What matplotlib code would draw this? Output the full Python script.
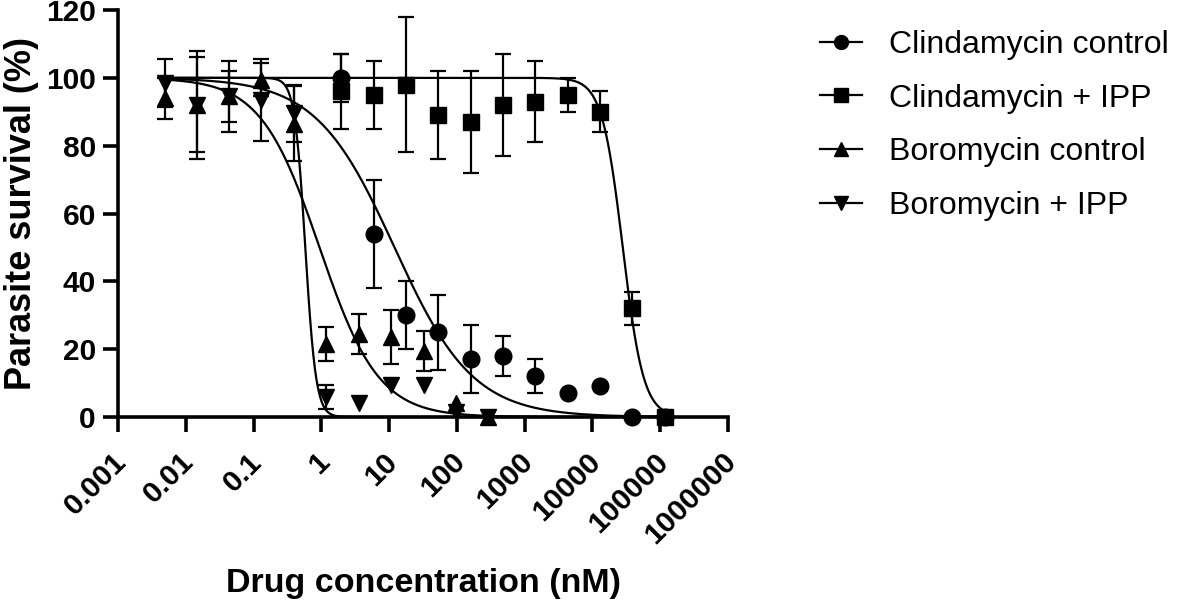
import numpy as np
import matplotlib
matplotlib.use("Agg")
import matplotlib.pyplot as plt
import matplotlib.transforms as mtransforms
from matplotlib.ticker import FixedLocator, NullLocator

plt.rcParams['font.family'] = ['Liberation Sans', 'DejaVu Sans']

# Concentrations (nM), 3-fold dilution series
clinda_x = [1.97, 5.9, 17.7, 53, 159, 478, 1433, 4300, 12900, 38700, 116000]
boro_x   = [0.0049, 0.0147, 0.044, 0.13, 0.40, 1.19, 3.58, 10.7, 32.2, 96.7, 290]

# Parasite survival (%) and error bars
clinda_ctrl     = [100, 54, 30, 25, 17, 18, 12, 7, 9, 0, 0]
clinda_ctrl_err = [7, 16, 10, 11, 10, 6, 5, 0, 0, 0, 0]
clinda_ipp      = [96, 95, 98, 89, 87, 92, 93, 95, 90, 32, 0]
clinda_ipp_err  = [11, 10, 20, 13, 15, 15, 12, 5, 6, 5, 0]
boro_ctrl       = [94, 92, 94.5, 99.5, 86.5, 21.5, 24.5, 23.5, 19.5, 4, 0]
boro_ctrl_err   = [6, 14, 7.5, 5, 11, 5, 6, 8, 6, 0, 0]
boro_ipp        = [98.5, 92, 94.5, 93.5, 89.5, 6, 4, 9.5, 9.5, 1.5, 0]
boro_ipp_err    = [7, 16, 10.5, 12, 8.5, 3.5, 0, 0, 0, 0, 0]

# fitted dose-response curves (top 100, bottom 0): IC50 (nM), Hill slope
fit_ic50 = [12.0, 28000, 0.94, 0.58]
fit_hill = [0.75, 2.84, 1.0, 5.5]

labels  = ["Clindamycin control", "Clindamycin + IPP",
           "Boromycin control", "Boromycin + IPP"]
markers = ["o", "s", "^", "v"]

xticks = [0.001, 0.01, 0.1, 1, 10, 100, 1000, 10000, 100000, 1000000]
xtick_labels = ["0.001", "0.01", "0.1", "1", "10", "100", "1000",
                "10000", "100000", "1000000"]

series = [(clinda_x, clinda_ctrl, clinda_ctrl_err),
          (clinda_x, clinda_ipp, clinda_ipp_err),
          (boro_x, boro_ctrl, boro_ctrl_err),
          (boro_x, boro_ipp, boro_ipp_err)]

fig = plt.figure(figsize=(11.81, 6.01), dpi=100)
ax = fig.add_axes([118/1181, 1 - 417/601, (728 - 118)/1181, (417 - 10)/601])

xfit = np.logspace(np.log10(min(boro_x)), np.log10(max(clinda_x)), 600)
for ic50, hill in zip(fit_ic50, fit_hill):
    yfit = 100.0 / (1.0 + (xfit / ic50)**hill)
    ax.plot(xfit, yfit, color="black", lw=1.6, zorder=2)

handles = []
for (x, y, e), m, lab in zip(series, markers, labels):
    x = np.array(x); y = np.array(y); e = np.array(e, dtype=float)
    keep = e > 0
    ax.errorbar(x[keep], y[keep], yerr=e[keep], fmt="none", ecolor="black",
                elinewidth=1.6, capsize=5.5, capthick=1.6, zorder=3,
                clip_on=False)
    ax.plot(x, y, linestyle="none", marker=m, ms=12, color="black",
            zorder=4, clip_on=False)
    h, = ax.plot([], [], color="black", lw=1.6, marker=m, ms=10)
    handles.append(h)

ax.set_xscale("log")
ax.set_xlim(0.001, 1000000)
ax.set_ylim(0, 120)
ax.xaxis.set_major_locator(FixedLocator(xticks))
ax.xaxis.set_minor_locator(NullLocator())
ax.set_xticklabels(xtick_labels)
ax.set_yticks([0, 20, 40, 60, 80, 100, 120])

for s in ["top", "right"]:
    ax.spines[s].set_visible(False)
for s in ["left", "bottom"]:
    ax.spines[s].set_linewidth(2.6)

ax.tick_params(axis="both", width=2.6, length=11, labelsize=21.5)
ax.tick_params(axis="y", pad=5)
ax.tick_params(axis="x", pad=11)
for t in ax.get_xticklabels() + ax.get_yticklabels():
    t.set_fontweight("bold")
shift = mtransforms.ScaledTranslation(-6/100, 0, fig.dpi_scale_trans)
for t in ax.get_xticklabels():
    t.set_rotation(45)
    t.set_ha("right")
    t.set_va("top")
    t.set_rotation_mode("anchor")
    t.set_transform(t.get_transform() + shift)

ax.set_xlabel("Drug concentration (nM)", fontsize=24.5, fontweight="bold",
              labelpad=13)
ax.set_ylabel("Parasite survival (%)", fontsize=26, fontweight="bold",
              labelpad=5)

fig.legend(handles, labels, loc="upper left",
           bbox_to_anchor=(820/1181, 1 - 30/601), frameon=False,
           fontsize=23, handlelength=1.3, handletextpad=0.85,
           labelspacing=0.74, borderpad=0, borderaxespad=0)

fig.savefig("out.png", dpi=100)
